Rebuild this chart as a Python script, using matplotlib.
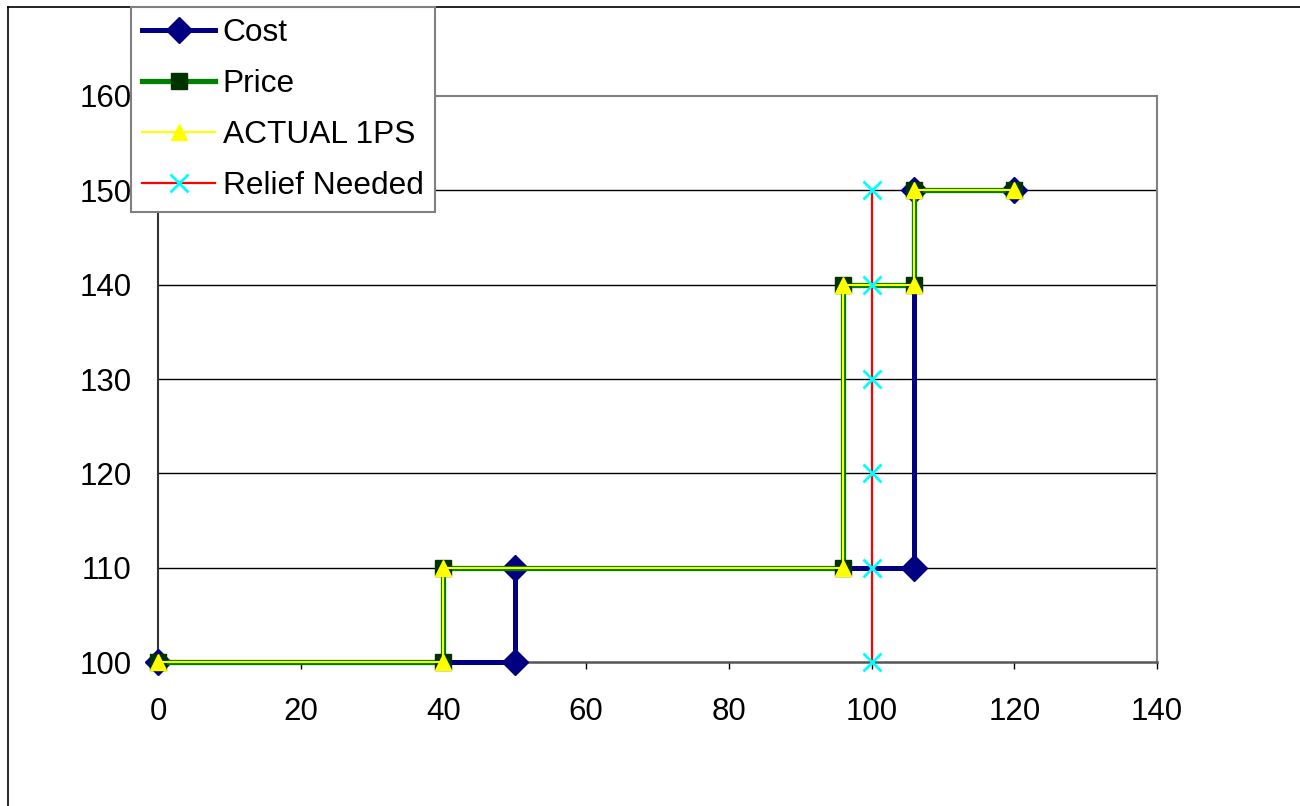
import numpy as np
import matplotlib
matplotlib.use('Agg')
import matplotlib.pyplot as plt
from matplotlib.lines import Line2D

plt.rcParams['font.family'] = ['Liberation Sans', 'DejaVu Sans']

# data
cost_x = [0, 50, 50, 106, 106, 120]
cost_y = [100, 100, 110, 110, 150, 150]

price_x = [0, 40, 40, 96, 96, 106, 106, 120]
price_y = [100, 100, 110, 110, 140, 140, 150, 150]

actual_x = [0, 40, 40, 96, 96, 106, 106, 120]
actual_y = [100, 100, 110, 110, 140, 140, 150, 150]

relief_x = [100, 100, 100, 100, 100, 100]
relief_y = [100, 110, 120, 130, 140, 150]

x_ticks = [0, 20, 40, 60, 80, 100, 120, 140]
y_ticks = [100, 110, 120, 130, 140, 150, 160]

W, H = 1300, 806
fig = plt.figure(figsize=(W / 100, H / 100), dpi=100)
ax = fig.add_axes([158 / W, 1 - 662 / H, (1157 - 158) / W, (662 - 96) / H])

# outer chart frame (only left and top edges fall inside the picture)
fig.add_artist(Line2D([8 / W, 8 / W], [-0.1, 1 - 7 / H], transform=fig.transFigure,
                      color='black', lw=1.2))
fig.add_artist(Line2D([8 / W, 1.1], [1 - 7 / H, 1 - 7 / H], transform=fig.transFigure,
                      color='black', lw=1.2))

ax.plot(cost_x, cost_y, color='#000080', lw=3.6, marker='D', ms=13.5,
        mfc='#000080', mec='#000080', label='Cost', clip_on=False, zorder=3)
ax.plot(price_x, price_y, color='#008000', lw=3.8, marker='s', ms=12.2,
        mfc='#003300', mec='#003300', label='Price', clip_on=False, zorder=4)
ax.plot(actual_x, actual_y, color='#FFFF00', lw=1.5, marker='^', ms=12,
        mfc='#FFFF00', mec='#FFFF00', label='ACTUAL 1PS', clip_on=False, zorder=5)
ax.plot(relief_x, relief_y, color='#FF0000', lw=1.6, marker='x', ms=13,
        mew=2, mec='#00FFFF', label='Relief Needed', clip_on=False, zorder=6)

ax.set_xlim(0, 140)
ax.set_ylim(100, 160)
ax.set_xticks(x_ticks)
ax.set_yticks(y_ticks)
ax.tick_params(axis='x', direction='out', length=5, width=1, labelsize=22.5, pad=20, color='black')
ax.tick_params(axis='y', length=0, labelsize=22.5, pad=19)

for yv in y_ticks[1:-1]:
    ax.axhline(yv, color='black', lw=1, zorder=1)

for s in ['top', 'right']:
    ax.spines[s].set_color('#808080')
    ax.spines[s].set_linewidth(1.5)
ax.spines['left'].set_color('#333333')
ax.spines['bottom'].set_color('#555555')
ax.spines['left'].set_linewidth(1.5)
ax.spines['bottom'].set_linewidth(1.8)

leg = fig.legend(loc='upper left', bbox_to_anchor=(131 / W, 1 - 7 / H),
                 fontsize=22.8, frameon=True, fancybox=False, framealpha=1,
                 edgecolor='#808080', handlelength=2.3, handletextpad=0.25,
                 borderpad=0.35, labelspacing=0.66, borderaxespad=0)
leg.get_frame().set_linewidth(1.5)
leg.set_zorder(10)

fig.savefig('out.png', dpi=100)
